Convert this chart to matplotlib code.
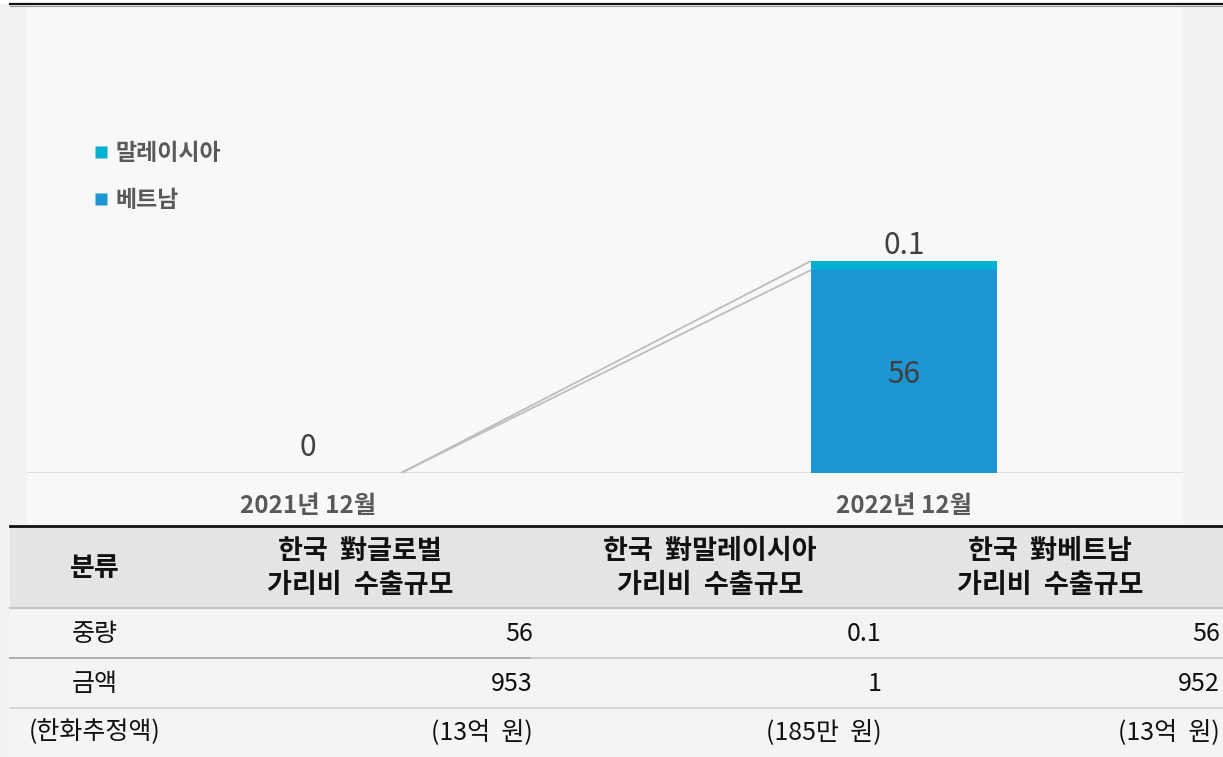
import matplotlib
matplotlib.use("Agg")
import matplotlib.pyplot as plt
from matplotlib.lines import Line2D
from matplotlib.patches import Rectangle

plt.rcParams['font.family'] = ['Noto Sans CJK KR', 'DejaVu Sans']

# ---------------- data ----------------
categories = ['2021년 12월', '2022년 12월']
vietnam = [0, 56]
malaysia = [0, 0.1]
series_names = ['말레이시아', '베트남']

table_header = ['분류', '한국  對글로벌\n가리비  수출규모', '한국  對말레이시아\n가리비  수출규모', '한국  對베트남\n가리비  수출규모']
row_labels = ['중량', '금액', '(한화추정액)']
col_global = ['56', '953', '(13억  원)']
col_malaysia = ['0.1', '1', '(185만  원)']
col_vietnam = ['56', '952', '(13억  원)']

# ---------------- figure ----------------
W, H = 1223, 757
fig = plt.figure(figsize=(W / 100, H / 100), dpi=100)
fig.patch.set_facecolor('#f2f2f2')

def fx(x):
    return x / W

def fy(y):
    return 1 - y / H

def frect(x0, y0, x1, y1, color, z=-5):
    fig.patches.append(Rectangle((fx(x0), fy(y1)), fx(x1) - fx(x0), fy(y0) - fy(y1),
                                 transform=fig.transFigure, facecolor=color,
                                 edgecolor='none', zorder=z))

def fline(x0, x1, y, color, lw, z=-2):
    fig.add_artist(Line2D([fx(x0), fx(x1)], [fy(y), fy(y)], transform=fig.transFigure,
                          color=color, lw=lw, zorder=z))

# top strip and panel
frect(0, 0, W, 4, 'white')
frect(27, 5, 1183, 524, '#f8f8f8')
fline(10, W, 3.5, '#111111', 1.6)
fline(10, W, 5.5, '#999999', 0.8)

# ---------------- chart ----------------
x_left_px, x_right_px = 27, 1183
y_base_px, y_top_px = 473, 5
ax = fig.add_axes([fx(x_left_px), fy(y_base_px), fx(x_right_px) - fx(x_left_px),
                   fy(y_top_px) - fy(y_base_px)])
ax.set_zorder(2)
ax.set_facecolor('none')
px_per_unit_x = 596
ax.set_xlim(-(308 - x_left_px) / px_per_unit_x, 1 + (x_right_px - 904) / px_per_unit_x)
ymax = 56 * (y_base_px - y_top_px) / (y_base_px - 270)
ax.set_ylim(0, ymax)
ax.axis('off')

col_viet = '#1e96d3'
col_mal = '#03b0cf'
bar_w = 186 / px_per_unit_x
min_visible = 2.5  # keep the tiny Malaysia segment visible as in the reference
xs = list(range(len(categories)))
mal_disp = [max(v, min_visible) if v > 0 else 0 for v in malaysia]

ax.bar(xs, vietnam, width=bar_w, color=col_viet, zorder=3)
ax.bar(xs, mal_disp, bottom=vietnam, width=bar_w, color=col_mal, zorder=3)

# series connector lines
for top_vals in (vietnam, [v + m for v, m in zip(vietnam, mal_disp)]):
    ax.plot([xs[0] + bar_w / 2, xs[1] - bar_w / 2], [top_vals[0], top_vals[1]],
            color='#bdbdbd', lw=1.3, zorder=2, solid_capstyle='butt')

# baseline
ax.axhline(0, color='#dcdcdc', lw=1.5, zorder=1)

# data labels
label_col = '#404040'
ax.text(xs[0], 7.0, f'{vietnam[0]}', ha='center', va='center', fontsize=21.5, color=label_col)
ax.text(xs[1], vietnam[1] / 2 - 0.8, f'{vietnam[1]}', ha='center', va='center', fontsize=21.5, color=label_col)
ax.text(xs[1], vietnam[1] + mal_disp[1] + 4.3, f'{malaysia[1]}', ha='center', va='center',
        fontsize=21.5, color=label_col)

# category labels
for x, c in zip(xs, categories):
    ax.text(x, -9.0, c, ha='center', va='center', fontsize=17.5, fontweight='bold', color='#595959')

# legend
handles = [Line2D([], [], marker='s', color='none', markerfacecolor=col_mal, markeredgecolor='none', markersize=8),
           Line2D([], [], marker='s', color='none', markerfacecolor=col_viet, markeredgecolor='none', markersize=8)]
leg = fig.legend(handles, series_names, loc='upper left', bbox_to_anchor=(fx(73), fy(121)),
                 frameon=False, handlelength=0.6, handletextpad=0.35, labelspacing=1.05,
                 prop={'size': 16.5, 'weight': 'bold'})
for t in leg.get_texts():
    t.set_color('#595959')

# ---------------- table ----------------
frect(10, 526, W, 608, '#e4e4e4')
frect(10, 608, W, H, '#f4f4f4')
fline(10, W, 526, '#111111', 2.0)
fline(10, W, 608, '#c4c4c4', 1.5)
fline(10, W, 658, '#c8c8c8', 1.2)
fline(10, 530, 658, '#a8a8a8', 1.2)
fline(10, W, 708, '#d2d2d2', 1.2)

head_centers = [95, 360, 710, 1050]
for cx, htxt in zip(head_centers, table_header):
    fig.text(fx(cx), fy(568), htxt, ha='center', va='center', fontsize=19.5,
             fontweight='bold', color='#111111', linespacing=1.28)

row_ys = [634, 684, 732]
right_edges = [533, 882, 1220]
columns = [col_global, col_malaysia, col_vietnam]
for i, ry in enumerate(row_ys):
    fig.text(fx(95), fy(ry), row_labels[i], ha='center', va='center', fontsize=18, color='#111111')
    for rx, col in zip(right_edges, columns):
        fig.text(fx(rx), fy(ry), col[i], ha='right', va='center', fontsize=18, color='#111111')

fig.savefig('out.png', dpi=100, facecolor=fig.get_facecolor())
